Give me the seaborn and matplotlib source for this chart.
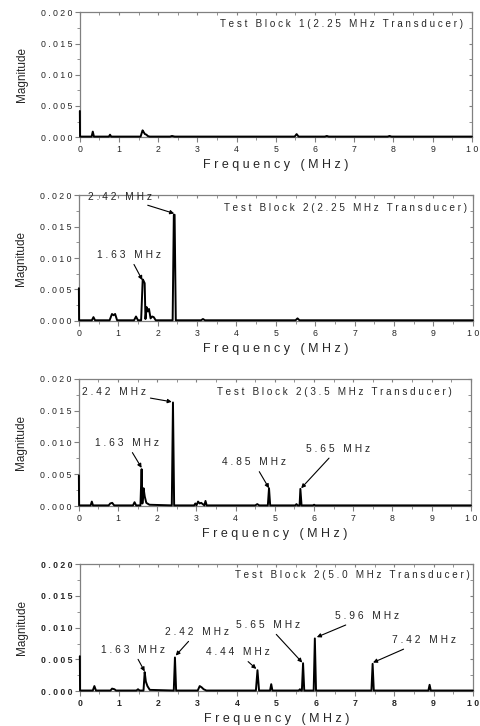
import matplotlib
matplotlib.use("Agg")
import matplotlib.pyplot as plt
import seaborn as sns
from matplotlib.ticker import MultipleLocator, FuncFormatter, NullFormatter

# spectrum data (frequency in MHz, magnitude)
f1 = [0, 0.005, 0.1, 0.30, 0.33, 0.36, 0.74, 0.77, 0.80, 1.55, 1.60, 1.63, 1.66, 1.70,
      1.73, 1.78, 2.30, 2.35, 2.42, 5.48, 5.53, 5.58, 6.25, 6.30, 6.35, 7.85, 7.90, 7.95, 10]
m1 = [0.0042, 0.0001, 0.0001, 0.0001, 0.0009, 0.0001, 0.0001, 0.0004, 0.0001, 0.0001,
      0.0011, 0.0008, 0.0005, 0.0004, 0.0002, 0.0001, 0.0001, 0.0002, 0.0001, 0.0001,
      0.0005, 0.0001, 0.0001, 0.0002, 0.0001, 0.0001, 0.0002, 0.0001, 0.0001]

f2 = [0, 0.005, 0.33, 0.37, 0.41, 0.78, 0.84, 0.88, 0.92, 0.97, 1.40, 1.45, 1.50,
      1.58, 1.62, 1.64, 1.67, 1.69, 1.72, 1.75, 1.78, 1.82, 1.86, 1.90, 1.95,
      2.38, 2.41, 2.43, 2.46, 3.10, 3.15, 3.20, 5.50, 5.55, 5.60, 10]
m2 = [0.0052, 0.0001, 0.0001, 0.0006, 0.0001, 0.0001, 0.0011, 0.0009, 0.0011, 0.0001,
      0.0001, 0.0007, 0.0001, 0.0001, 0.0066, 0.0064, 0.0060, 0.0003, 0.0022, 0.0015,
      0.0019, 0.0004, 0.0007, 0.0006, 0.0001, 0.0001, 0.0169, 0.0169, 0.0001,
      0.0001, 0.0003, 0.0001, 0.0001, 0.0004, 0.0001, 0.0001]

f3 = [0, 0.005, 0.30, 0.33, 0.36, 0.76, 0.80, 0.85, 0.90, 1.38, 1.42, 1.46,
      1.57, 1.60, 1.62, 1.65, 1.68, 1.72, 1.80, 2.37, 2.40, 2.43,
      2.94, 2.97, 3.00, 3.04, 3.08, 3.12, 3.16, 3.20, 3.23, 3.26,
      4.50, 4.55, 4.60, 4.82, 4.85, 4.88, 5.52, 5.55, 5.58, 5.63, 5.65, 5.68,
      5.97, 6.00, 6.03, 10]
m3 = [0.0048, 0.0001, 0.0001, 0.0007, 0.0001, 0.0001, 0.0004, 0.0005, 0.0001,
      0.0001, 0.0006, 0.0001, 0.0001, 0.0058, 0.0004, 0.0028, 0.0015, 0.0005, 0.0002,
      0.0001, 0.0163, 0.0001, 0.0001, 0.0004, 0.0001, 0.0007, 0.0004, 0.0005, 0.0003,
      0.0001, 0.0008, 0.0001, 0.0001, 0.0003, 0.0001, 0.0001, 0.0028, 0.0001,
      0.0001, 0.0003, 0.0001, 0.0001, 0.0027, 0.0001, 0.0001, 0.0002, 0.0001, 0.0001]

f4 = [0, 0.005, 0.33, 0.37, 0.41, 0.78, 0.82, 0.88, 0.92, 1.44, 1.48, 1.52,
      1.62, 1.65, 1.68, 1.72, 1.78, 2.39, 2.42, 2.45, 3.00, 3.05, 3.10, 3.15, 3.22,
      4.48, 4.52, 4.56, 4.84, 4.87, 4.90, 5.57, 5.60, 5.63, 5.65, 5.68, 5.71,
      5.95, 5.98, 6.01, 7.42, 7.45, 7.48, 8.87, 8.90, 8.93, 10]
m4 = [0.0055, 0.0001, 0.0001, 0.0008, 0.0001, 0.0001, 0.0004, 0.0003, 0.0001,
      0.0001, 0.0003, 0.0001, 0.0001, 0.0030, 0.0015, 0.0008, 0.0002, 0.0001, 0.0053,
      0.0001, 0.0001, 0.0008, 0.0006, 0.0003, 0.0001, 0.0001, 0.0033, 0.0001,
      0.0001, 0.0011, 0.0001, 0.0001, 0.0003, 0.0001, 0.0001, 0.0044, 0.0001,
      0.0001, 0.0083, 0.0001, 0.0001, 0.0043, 0.0001, 0.0001, 0.0010, 0.0001, 0.0001]

titles = ["Test Block 1(2.25 MHz Transducer)", "Test Block 2(2.25 MHz Transducer)",
          "Test Block 2(3.5 MHz Transducer)", "Test Block 2(5.0 MHz Transducer)"]

# peak labels: (text, peak freq, peak magnitude)
peaks2 = [("2.42 MHz", 2.42, 0.0171), ("1.63 MHz", 1.61, 0.0065)]
peaks3 = [("2.42 MHz", 2.37, 0.0164), ("1.63 MHz", 1.60, 0.0060),
          ("4.85 MHz", 4.85, 0.0028), ("5.65 MHz", 5.67, 0.0028)]
peaks4 = [("1.63 MHz", 1.65, 0.0031), ("2.42 MHz", 2.44, 0.0056),
          ("4.44 MHz", 4.49, 0.0035), ("5.65 MHz", 5.66, 0.0045),
          ("5.96 MHz", 6.03, 0.0085), ("7.42 MHz", 7.46, 0.0045)]
# where the label text sits
text2 = [(1.04, 0.0198), (1.27, 0.0105)]
text3 = [(0.89, 0.0180), (1.22, 0.0099), (4.46, 0.0069), (6.60, 0.0090)]
text4 = [(1.35, 0.0065), (2.98, 0.0093), (4.02, 0.0061), (4.78, 0.0104),
         (7.30, 0.0118), (8.75, 0.0080)]

sns.set_style("ticks")
plt.rcParams['font.family'] = ['Liberation Sans', 'DejaVu Sans']


def spaced(s):
    # the original uses very wide letter spacing
    return " ".join(s)


fig = plt.figure(figsize=(4.81, 7.26), dpi=100)
boxes = [[0.166, 0.811, 0.815, 0.172], [0.164, 0.558, 0.819, 0.173],
         [0.164, 0.303, 0.815, 0.175], [0.166, 0.048, 0.817, 0.175]]
freqs = [f1, f2, f3, f4]
mags = [m1, m2, m3, m4]
peaks = [[], peaks2, peaks3, peaks4]
texts = [[], text2, text3, text4]
title_pos = [(9.77, 0.0181), (9.85, 0.0179), (9.52, 0.0180), (9.92, 0.0183)]
grey = "#808080"

for i in range(4):
    ax = fig.add_axes(boxes[i])
    sns.lineplot(x=freqs[i], y=mags[i], ax=ax, color="black", lw=1.4,
                 estimator=None, sort=False)
    for ln in ax.lines:
        ln.set_clip_on(False)
        ln.set_zorder(3)
    ax.set_xlim(0, 10)
    ax.set_ylim(0, 0.02)
    ax.xaxis.set_major_locator(MultipleLocator(1))
    ax.xaxis.set_minor_locator(MultipleLocator(0.5))
    ax.yaxis.set_major_locator(MultipleLocator(0.005))
    ax.yaxis.set_minor_locator(MultipleLocator(0.0025))
    ax.xaxis.set_major_formatter(FuncFormatter(lambda v, p: spaced(f"{v:.0f}")))
    ax.yaxis.set_major_formatter(FuncFormatter(lambda v, p: spaced(f"{v:.3f}")))
    ax.tick_params(which="both", direction="out", color=grey, labelsize=6.3)
    ax.tick_params(which="major", length=3.5)
    ax.tick_params(which="minor", length=2)
    ax.tick_params(axis="x", pad=2)
    ax.tick_params(axis="y", pad=2)
    for sp in ax.spines.values():
        sp.set_color(grey)
        sp.set_linewidth(0.9)

    # inward ticks on the top and right edges
    top = ax.secondary_xaxis("top")
    top.xaxis.set_major_locator(MultipleLocator(1))
    top.xaxis.set_minor_locator(MultipleLocator(0.5))
    top.xaxis.set_major_formatter(NullFormatter())
    top.tick_params(which="both", direction="in", color=grey, length=2.5)
    top.spines["top"].set_visible(False)
    right = ax.secondary_yaxis("right")
    right.yaxis.set_major_locator(MultipleLocator(0.005))
    right.yaxis.set_minor_locator(MultipleLocator(0.0025))
    right.yaxis.set_major_formatter(NullFormatter())
    right.tick_params(which="both", direction="in", color=grey, length=2.5)
    right.spines["right"].set_visible(False)

    weight = "bold" if i == 3 else "normal"
    for lab in ax.get_xticklabels() + ax.get_yticklabels():
        lab.set_fontweight(weight)
    ax.set_xlabel("F r e q u e n c y   ( M H z )", fontsize=9, labelpad=4)
    ax.set_ylabel("Magnitude", fontsize=8.5, labelpad=9)
    ax.text(title_pos[i][0], title_pos[i][1], spaced(titles[i]), ha="right",
            va="center", fontsize=7.1)
    for (lab, px, py), (tx, ty) in zip(peaks[i], texts[i]):
        ax.annotate(spaced(lab), xy=(px, py), xytext=(tx, ty), ha="center",
                    va="center", fontsize=7.4,
                    arrowprops=dict(arrowstyle="-|>", color="black", lw=0.8,
                                    mutation_scale=6, shrinkA=1, shrinkB=0))

fig.savefig("out.png", dpi=100)
